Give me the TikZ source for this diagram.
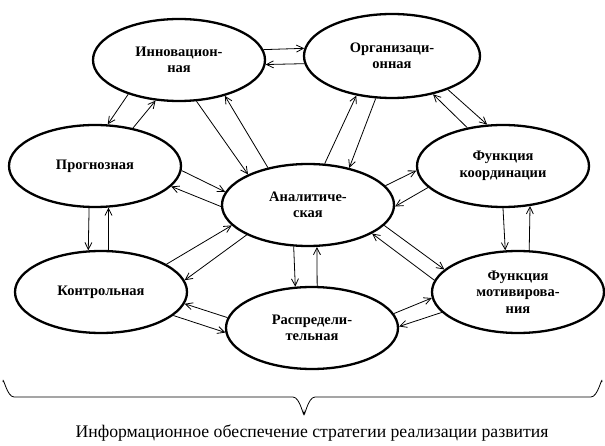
\documentclass[tikz,border=0pt]{standalone}
\usepackage{fontspec}
\setmainfont{Liberation Serif}
\usetikzlibrary{shapes.geometric,arrows.meta}

\begin{document}
\begin{tikzpicture}[x=1pt,y=-1pt,
  func/.style={ellipse, draw, fill=white, line width=2.3pt,
    minimum width=172pt, minimum height=82pt, inner sep=0pt, align=center,
    font=\fontsize{14.5}{16.5}\selectfont\bfseries},
  link/.style={-{Straight Barb[length=7pt,width=7pt]}, line width=0.8pt}]

  \useasboundingbox (0,0) rectangle (605,446);

  % functions
  \node[func] (innov)   at (179,60)  {Инновацион-\\ная};
  \node[func, minimum width=176pt, minimum height=84pt]
              (organiz) at (392,56)  {Организаци-\\онная};
  \node[func] (prognoz) at (95,166)  {Прогнозная};
  \node[func] (analit)  at (308,205) {Аналитиче-\\ская};
  \node[func] (koord)   at (503,166) {Функция\\координации};
  \node[func] (kontrol) at (101,292) {Контрольная};
  \node[func] (raspr)   at (312,328) {Распредели-\\тельная};
  \node[func] (motiv)   at (518,292) {Функция\\мотивирова-\\ния};

  % pairs of links
  \draw[link] (innov.7)     -- (organiz.175);
  \draw[link] (organiz.185) -- (innov.357);

  \draw[link] (innov.214)   -- (prognoz.73);
  \draw[link] (prognoz.45)  -- (innov.240);

  \draw[link] (innov.293)   -- (analit.153);
  \draw[link] (analit.137)  -- (innov.322);

  \draw[link] (prognoz.357) -- (analit.171);
  \draw[link] (analit.181)  -- (prognoz.345);

  \draw[link] (prognoz.262) -- (kontrol.107);
  \draw[link] (kontrol.80)  -- (prognoz.288);

  \draw[link] (analit.68)   -- (organiz.228);
  \draw[link] (organiz.249) -- (analit.42);

  \draw[link] (koord.133)   -- (organiz.317);
  \draw[link] (organiz.329) -- (koord.111);

  \draw[link] (analit.14)   -- (koord.183);
  \draw[link] (koord.196)   -- (analit.359);

  \draw[link] (koord.270)   -- (motiv.107);
  \draw[link] (motiv.75)    -- (koord.304);

  \draw[link] (analit.345)  -- (motiv.163);
  \draw[link] (motiv.172)   -- (analit.336);

  \draw[link] (analit.251)  -- (raspr.112);
  \draw[link] (raspr.83)    -- (analit.282);

  \draw[link] (kontrol.23)  -- (analit.195);
  \draw[link] (analit.206)  -- (kontrol.8);

  \draw[link] (raspr.173)   -- (kontrol.352);
  \draw[link] (kontrol.342) -- (raspr.183);

  \draw[link] (raspr.10)    -- (motiv.184);
  \draw[link] (motiv.195)   -- (raspr.1);

  % brace
  \draw[line width=0.8pt] (3,382) to[out=90,in=180] (14,397) -- (293,397)
    to[out=0,in=-90] (304,413) to[out=-90,in=180] (315,397) -- (591,397)
    to[out=0,in=90] (602,382);

  \node[font=\fontsize{17.7}{20}\selectfont] (itog) at (312,433)
    {Информационное обеспечение стратегии реализации развития};

\end{tikzpicture}
\end{document}
